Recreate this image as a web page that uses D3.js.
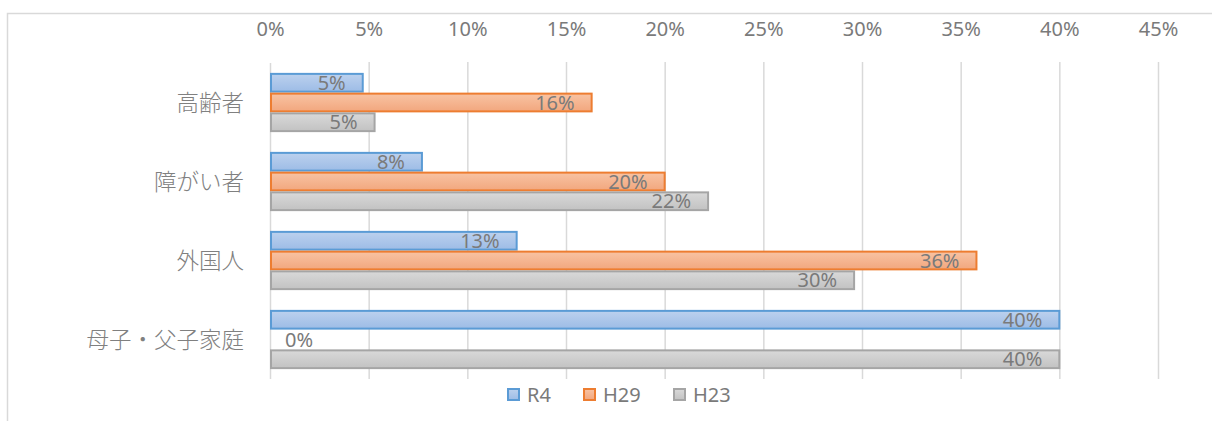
<!DOCTYPE html>
<html><head><meta charset="utf-8">
<script src="https://cdn.jsdelivr.net/npm/d3@7"></script>
<style>body{margin:0;background:#fff}svg{display:block}</style>
</head><body><svg id="c" width="1212" height="421"></svg>
<script>
const categories = ["高齢者","障がい者","外国人","母子・父子家庭"];
const seriesNames = ["R4","H29","H23"];
const R4  = [4.7, 7.7, 12.5, 40.0];
const H29 = [16.3, 20.0, 35.8, 0.0];
const H23 = [5.3, 22.2, 29.6, 40.0];
const labelsR4  = ["5%","8%","13%","40%"];
const labelsH29 = ["16%","20%","36%","0%"];
const labelsH23 = ["5%","22%","30%","40%"];
const ticks = [0,5,10,15,20,25,30,35,40,45];

const values = [R4,H29,H23];
const labels = [labelsR4,labelsH29,labelsH23];
const fills = [["#bcd1ee","#9dbce6"],["#f8c3a3","#f2a77e"],["#d9d9d9","#c2c2c2"]];
const strokes = ["#5b9bd5","#ed7d31","#a5a5a5"];

const svg = d3.select("#c");
const defs = svg.append("defs");
fills.forEach((f,i)=>{
  const g = defs.append("linearGradient").attr("id","g"+i).attr("x1",0).attr("y1",0).attr("x2",0).attr("y2",1);
  g.append("stop").attr("offset","0%").attr("stop-color",f[0]);
  g.append("stop").attr("offset","100%").attr("stop-color",f[1]);
});

svg.append("rect").attr("x",7.5).attr("y",13.5).attr("width",1220).attr("height",420)
  .attr("fill","none").attr("stroke","#d9d9d9").attr("stroke-width",1.5);

const x = d3.scaleLinear().domain([0,45]).range([270,1158]);
const y = d3.scaleBand().domain(categories).range([63,379]).paddingInner(0.25).paddingOuter(0.125);
const ys = d3.scaleBand().domain(seriesNames).range([0,y.bandwidth()]);

const font = "'Noto Sans','Noto Sans CJK JP',sans-serif";
const txt = "#7a7a7a";

// gridlines
svg.append("g").selectAll("line").data(ticks.slice(1)).join("line")
  .attr("x1",d=>x(d)+0.5).attr("x2",d=>x(d)+0.5).attr("y1",62).attr("y2",379)
  .attr("stroke","#d9d9d9").attr("stroke-width",1.5);

// top axis labels
const ax = d3.axisTop(x).tickValues(ticks).tickFormat(d=>d+"%").tickSize(0);
const axg = svg.append("g").attr("transform","translate(0,39)").call(ax);
axg.select(".domain").remove();
axg.selectAll("text").attr("font-family",font).attr("font-size",20).attr("fill",txt).attr("dy",0);

// category axis
const ay = d3.axisLeft(y).tickSize(0).tickPadding(26);
const ayg = svg.append("g").attr("transform","translate(270,0)").call(ay);
ayg.select(".domain").attr("stroke","#d9d9d9").attr("stroke-width",1.5).attr("d","M0.5,63V379");
ayg.selectAll("text").attr("font-family","'Noto Sans CJK JP',sans-serif").attr("font-weight",300)
  .attr("font-size",22.5).attr("fill","#808080").attr("dy","0.36em");

// bars
seriesNames.forEach((s,si)=>{
  const g = svg.append("g");
  categories.forEach((c,ci)=>{
    const v = values[si][ci];
    const y0 = y(c)+ys(s);
    if (v>0) {
      g.append("rect").attr("x",x(0)+1).attr("y",y0+1)
        .attr("width",Math.max(0,x(v)-x(0)-1)).attr("height",ys.bandwidth()-2)
        .attr("fill","url(#g"+si+")").attr("stroke",strokes[si]).attr("stroke-width",2);
    }
    const t = g.append("text").attr("y",y0+ys.bandwidth()/2).attr("dy","0.36em")
      .attr("font-family",font).attr("font-size",20).attr("fill",txt).text(labels[si][ci]);
    if (v>0) t.attr("x",x(v)-17).attr("text-anchor","end");
    else t.attr("x",x(0)+15).attr("text-anchor","start");
  });
});

// legend
const lx = [507,583,673];
seriesNames.forEach((s,i)=>{
  svg.append("rect").attr("x",lx[i]+1).attr("y",389).attr("width",11).attr("height",11)
    .attr("fill","url(#g"+i+")").attr("stroke",strokes[i]).attr("stroke-width",2);
  svg.append("text").attr("x",lx[i]+20).attr("y",395).attr("dy","0.36em")
    .attr("font-family",font).attr("font-size",20).attr("fill",txt).text(s);
});
</script></body></html>
